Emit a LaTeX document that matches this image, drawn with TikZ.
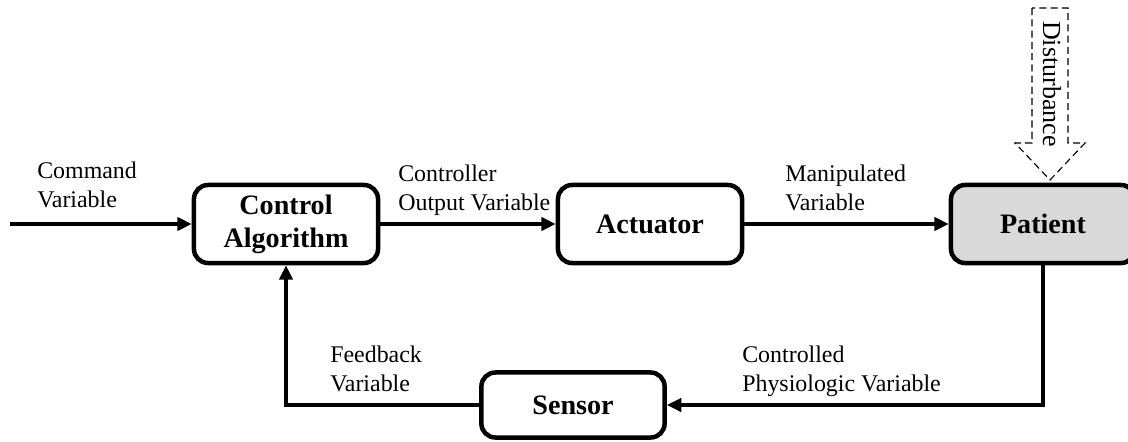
\documentclass[tikz,border=0pt]{standalone}
\usepackage{fontspec}
\setmainfont{Liberation Serif}
\usetikzlibrary{arrows.meta}

\begin{document}
\begin{tikzpicture}[x = 0.025cm, y = -0.025cm,
                        block/.style = {draw, rounded corners = 0.35cm, line width = 3.2pt,
                                        minimum width = 4.6cm, minimum height = 1.95cm,
                                        align = center, font = \fontsize{20}{23.5}\selectfont\bfseries},
                        conn/.style = {line width = 2.5pt, -{Triangle[length = 0.36cm, width = 0.33cm]}},
                        lbl/.style = {anchor = north west, inner sep = 0pt, align = left,
                                      font = \fontsize{17}{20.5}\selectfont}]
      \useasboundingbox (0, 0) rectangle (1128, 441);
      \clip (0, 0) rectangle (1128, 441);
      % blocks
      \node [block] (ctrl) at (286, 224) {Control\\Algorithm};
      \node [block] (act) at (650, 224) {Actuator};
      \node [block, fill = black!15] (pat) at (1043, 224) {Patient};
      \node [block, minimum width = 4.58cm, minimum height = 1.625cm] (sens) at (573, 405) {Sensor};
      \coordinate (cmd) at (10, 224);
      % connectors
      \draw [conn] (cmd) -- (ctrl);
      \draw [conn] (ctrl) -- (act);
      \draw [conn] (act) -- (pat);
      \draw [conn] (pat.south) |- (sens.east);
      \draw [conn] (sens.west) -| (ctrl.south);
      % labels
      \node [lbl] (lcmd) at (37, 162) {Command\\Variable};
      \node [lbl] (lout) at (398, 165) {Controller\\Output Variable};
      \node [lbl] (lman) at (785, 165) {Manipulated\\Variable};
      \node [lbl] (lfb) at (330, 346) {Feedback\\Variable};
      \node [lbl] (lphy) at (742, 346) {Controlled\\Physiologic Variable};
      % disturbance
      \draw [dashed, line width = 0.8pt, dash pattern = on 5pt off 3pt]
            (1032, 8) -- (1032, 143) -- (1015, 143) -- (1050, 180) -- (1085, 143)
            -- (1068, 143) -- (1068, 8) -- cycle;
      \node [rotate = -90, font = \fontsize{18.5}{20}\selectfont] (dist) at (1052, 84) {Disturbance};
    \end{tikzpicture}
\end{document}
